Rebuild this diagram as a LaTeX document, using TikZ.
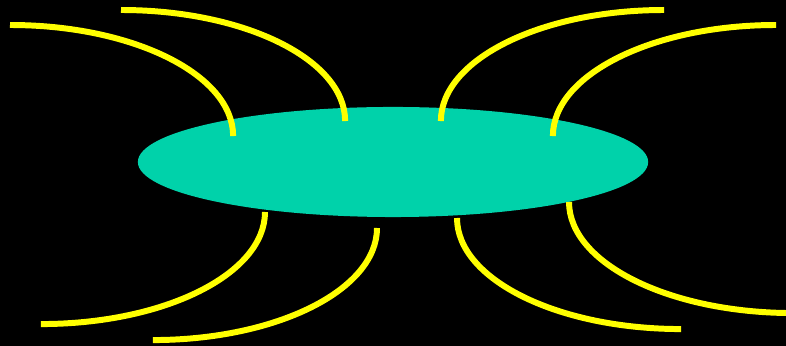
\documentclass[tikz,border=0pt]{standalone}
\usepackage{tikz}
\usetikzlibrary{shapes.geometric}
\definecolor{Body}{RGB}{0,210,170}
\definecolor{Leg}{RGB}{255,255,0}
\tikzset{
  body/.style={ellipse,fill=Body,draw=none,minimum width=5.1cm,minimum height=1.1cm,inner sep=0pt},
  leg/.style={draw=Leg,line width=1.7pt,line cap=butt}
}
\begin{document}
\begin{tikzpicture}[x=0.01cm,y=0.01cm]
  \fill[black] (0,0) rectangle (786,346);
  \useasboundingbox (0,0) rectangle (786,346);
  \clip (0,0) rectangle (786,346);
  \node[body] (core) at (393,184) {};
  % upper legs
  \coordinate (u1) at (10,321);
  \coordinate (u2) at (121,336);
  \coordinate (u3) at (664,336);
  \coordinate (u4) at (776,321);
  \draw[leg] (u1) arc[start angle=90,end angle=0,x radius=2.23cm,y radius=1.11cm];
  \draw[leg] (u2) arc[start angle=90,end angle=0,x radius=2.24cm,y radius=1.11cm];
  \draw[leg] (u3) arc[start angle=90,end angle=180,x radius=2.23cm,y radius=1.11cm];
  \draw[leg] (u4) arc[start angle=90,end angle=180,x radius=2.23cm,y radius=1.11cm];
  % lower legs
  \coordinate (d1) at (265,134);
  \coordinate (d2) at (377,118);
  \coordinate (d3) at (457,128);
  \coordinate (d4) at (569,144);
  \draw[leg] (d1) arc[start angle=0,end angle=-90,x radius=2.24cm,y radius=1.12cm];
  \draw[leg] (d2) arc[start angle=0,end angle=-90,x radius=2.24cm,y radius=1.12cm];
  \draw[leg] (d3) arc[start angle=180,end angle=270,x radius=2.24cm,y radius=1.11cm];
  \draw[leg] (d4) arc[start angle=180,end angle=270,x radius=2.24cm,y radius=1.11cm];
\end{tikzpicture}
\end{document}
